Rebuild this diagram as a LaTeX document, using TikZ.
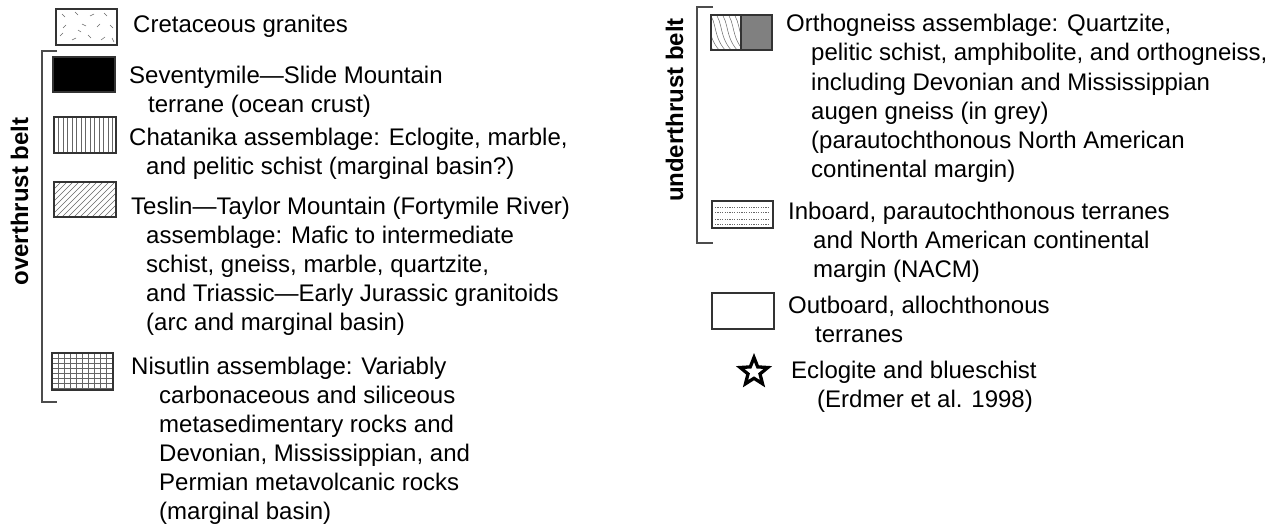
\documentclass[tikz,border=0pt]{standalone}
\usepackage{fontspec}
\setmainfont{Liberation Sans}
\usetikzlibrary{shapes.geometric}
\begin{document}
\begin{tikzpicture}[x=1pt,y=-1pt,
  ln/.style={anchor=base west, inner sep=0pt, font=\fontsize{24}{29}\selectfont},
  lab/.style={rotate=90, anchor=base, inner sep=0pt, font=\fontsize{24}{29}\selectfont\bfseries},
  legbox/.style={draw=black!80, line width=1.3pt},
  brk/.style={draw=black!70, line width=1.3pt},
  pat/.style={draw=black!60, line width=0.5pt}]
\useasboundingbox (0,0) rectangle (1282,527);

% ---------- left column ----------
% Cretaceous granites
\begin{scope}
\clip (56,9) rectangle (117,45);
\foreach \a/\b/\c/\d in {62/14/65/17, 75/12/78/15, 90/16/94/14, 104/13/107/16, 66/25/63/28, 82/24/86/26, 97/27/100/24, 110/25/113/28, 60/36/63/33, 72/40/76/38, 88/35/91/38, 101/40/105/37, 78/30/81/32, 112/38/114/42}
  \draw[pat] (\a,\b) -- (\c,\d);
\end{scope}
\draw[legbox] (56,9) rectangle (117,45);
\node[ln] (t1) at (133,33) {Cretaceous granites};

% bracket overthrust
\coordinate (ob1) at (57,51);
\coordinate (ob2) at (42,51);
\coordinate (ob3) at (42,402);
\coordinate (ob4) at (57,402);
\draw[brk] (ob1) -- (ob2) -- (ob3) -- (ob4);
\node[lab] (ob) at (28,201.5) {overthrust belt};

% Seventymile
\fill[black] (53,57) rectangle (115,92);
\draw[legbox] (53,57) rectangle (115,92);
\node[ln] (t2a) at (129,83) {Seventymile—Slide Mountain};
\node[ln] (t2b) at (148,112) {terrane (ocean crust)};

% Chatanika
\begin{scope}
\clip (54,117) rectangle (116,153);
\foreach \x in {58.5,63,...,114} \draw[pat] (\x,117) -- (\x,153);
\end{scope}
\draw[legbox] (54,117) rectangle (116,153);
\node[ln] (t3a) at (129,145) {Chatanika assemblage: Eclogite, marble,};
\node[ln] (t3b) at (146,174) {and pelitic schist (marginal basin?)};

% Teslin
\begin{scope}
\clip (54,182) rectangle (116,217);
\foreach \i in {-40,-34,...,70} \draw[pat] (54+\i,217) -- (89+\i,182);
\end{scope}
\draw[legbox] (54,182) rectangle (116,217);
\node[ln] (t4a) at (131,214) {Teslin—Taylor Mountain (Fortymile River)};
\node[ln] (t4b) at (146,243) {assemblage: Mafic to intermediate};
\node[ln] (t4c) at (146,272) {schist, gneiss, marble, quartzite,};
\node[ln] (t4d) at (146,301) {and Triassic—Early Jurassic granitoids};
\node[ln] (t4e) at (146,330) {(arc and marginal basin)};

% Nisutlin
\begin{scope}
\clip (52,353) rectangle (113,390);
\foreach \x in {58,64,...,112} \draw[pat] (\x,353) -- (\x,390);
\foreach \y in {358,363,...,389} \draw[pat] (52,\y) -- (113,\y);
\end{scope}
\draw[legbox] (52,353) rectangle (113,390);
\node[ln] (t5a) at (131,374) {Nisutlin assemblage: Variably};
\node[ln] (t5b) at (159,403) {carbonaceous and siliceous};
\node[ln] (t5c) at (159,432) {metasedimentary rocks and};
\node[ln] (t5d) at (159,461) {Devonian, Mississippian, and};
\node[ln] (t5e) at (159,490) {Permian metavolcanic rocks};
\node[ln] (t5f) at (159,519) {(marginal basin)};

% ---------- right column ----------
\coordinate (ub1) at (713,7);
\coordinate (ub2) at (697,7);
\coordinate (ub3) at (697,243);
\coordinate (ub4) at (713,243);
\draw[brk] (ub1) -- (ub2) -- (ub3) -- (ub4);
\node[lab] (ub) at (683,110) {underthrust belt};

% Orthogneiss
\fill[black!50] (741,15) rectangle (772,50);
\begin{scope}
\clip (711,15) rectangle (741,50);
\foreach \x in {696,702,...,744}
  \draw[pat] (\x,12) .. controls (\x+10,22) and (\x+4,38) .. (\x+20,53);
\end{scope}
\draw[legbox] (711,15) rectangle (772,50);
\draw[legbox] (741,15) -- (741,50);
\node[ln] (r1a) at (786,32) {Orthogneiss assemblage: Quartzite,};
\node[ln] (r1b) at (811,61) {pelitic schist, amphibolite, and orthogneiss,};
\node[ln] (r1c) at (811,90) {including Devonian and Mississippian};
\node[ln] (r1d) at (811,119) {augen gneiss (in grey)};
\node[ln] (r1e) at (811,148) {(parautochthonous North American};
\node[ln] (r1f) at (811,177) {continental margin)};

% Inboard
\foreach \y in {207,212,219,224}
  \draw[draw=black!60, line width=0.6pt, dash pattern=on 1.2pt off 1.2pt] (715,\y) -- (770,\y);
\draw[legbox] (712,201) rectangle (773,228);
\node[ln] (r2a) at (788,219) {Inboard, parautochthonous terranes};
\node[ln] (r2b) at (813,248) {and North American continental};
\node[ln] (r2c) at (813,277) {margin (NACM)};

% Outboard
\draw[legbox] (712,293) rectangle (774,329);
\node[ln] (r3a) at (788,313) {Outboard, allochthonous};
\node[ln] (r3b) at (815,342) {terranes};

% Eclogite star
\node[star, star points=5, star point ratio=2.3, draw=black, line width=3.3pt,
      minimum size=29pt, inner sep=0pt] (st) at (754,372) {};
\node[ln] (r4a) at (791,378) {Eclogite and blueschist};
\node[ln] (r4b) at (817,407) {(Erdmer et al. 1998)};
\end{tikzpicture}
\end{document}
